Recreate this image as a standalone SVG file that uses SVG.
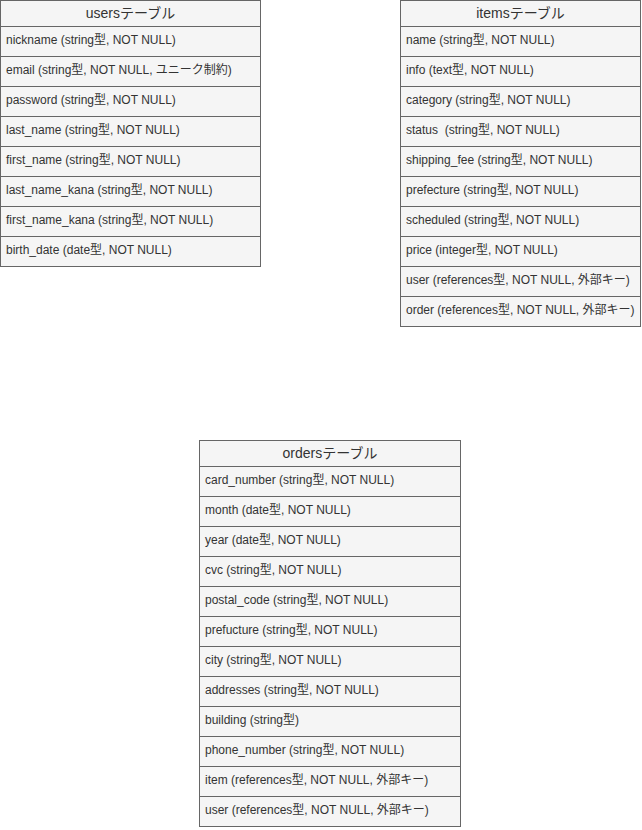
<svg xmlns="http://www.w3.org/2000/svg" width="642" height="830" viewBox="0 0 642 830">
<style>
.box{fill:#f5f5f5;stroke:#666666;stroke-width:1}
.sep{stroke:#666666;stroke-width:1}
.title{font-family:"Liberation Sans","Noto Sans CJK JP",sans-serif;font-size:14px;fill:#333333;text-anchor:middle}
.row{font-family:"Liberation Sans","Noto Sans CJK JP",sans-serif;font-size:12px;fill:#333333}
</style>
<rect width="642" height="830" fill="#ffffff"/>
<g id="users">
<rect class="box" x="0.5" y="0.5" width="260" height="266"/>
<path class="sep" d="M0.5 26.5H260.5M0.5 56.5H260.5M0.5 86.5H260.5M0.5 116.5H260.5M0.5 146.5H260.5M0.5 176.5H260.5M0.5 206.5H260.5M0.5 236.5H260.5"/>
<text class="title" x="130.5" y="18">usersテーブル</text>
<text class="row" x="6" y="44">nickname (string型, NOT NULL)</text>
<text class="row" x="6" y="74">email (string型, NOT NULL, ユニーク制約)</text>
<text class="row" x="6" y="104">password (string型, NOT NULL)</text>
<text class="row" x="6" y="134">last_name (string型, NOT NULL)</text>
<text class="row" x="6" y="164">first_name (string型, NOT NULL)</text>
<text class="row" x="6" y="194">last_name_kana (string型, NOT NULL)</text>
<text class="row" x="6" y="224">first_name_kana (string型, NOT NULL)</text>
<text class="row" x="6" y="254">birth_date (date型, NOT NULL)</text>
</g>
<g id="items">
<rect class="box" x="400.5" y="0.5" width="240" height="326"/>
<path class="sep" d="M400.5 26.5H640.5M400.5 56.5H640.5M400.5 86.5H640.5M400.5 116.5H640.5M400.5 146.5H640.5M400.5 176.5H640.5M400.5 206.5H640.5M400.5 236.5H640.5M400.5 266.5H640.5M400.5 296.5H640.5"/>
<text class="title" x="520.5" y="18">itemsテーブル</text>
<text class="row" x="406" y="44">name (string型, NOT NULL)</text>
<text class="row" x="406" y="74">info (text型, NOT NULL)</text>
<text class="row" x="406" y="104">category (string型, NOT NULL)</text>
<text class="row" x="406" y="134" xml:space="preserve">status  (string型, NOT NULL)</text>
<text class="row" x="406" y="164">shipping_fee (string型, NOT NULL)</text>
<text class="row" x="406" y="194">prefecture (string型, NOT NULL)</text>
<text class="row" x="406" y="224">scheduled (string型, NOT NULL)</text>
<text class="row" x="406" y="254">price (integer型, NOT NULL)</text>
<text class="row" x="406" y="284">user (references型, NOT NULL, 外部キー)</text>
<text class="row" x="406" y="314">order (references型, NOT NULL, 外部キー)</text>
</g>
<g id="orders">
<rect class="box" x="199.5" y="440.5" width="261" height="386"/>
<path class="sep" d="M199.5 466.5H460.5M199.5 496.5H460.5M199.5 526.5H460.5M199.5 556.5H460.5M199.5 586.5H460.5M199.5 616.5H460.5M199.5 646.5H460.5M199.5 676.5H460.5M199.5 706.5H460.5M199.5 736.5H460.5M199.5 766.5H460.5M199.5 796.5H460.5"/>
<text class="title" x="330" y="458">ordersテーブル</text>
<text class="row" x="205" y="484">card_number (string型, NOT NULL)</text>
<text class="row" x="205" y="514">month (date型, NOT NULL)</text>
<text class="row" x="205" y="544">year (date型, NOT NULL)</text>
<text class="row" x="205" y="574">cvc (string型, NOT NULL)</text>
<text class="row" x="205" y="604">postal_code (string型, NOT NULL)</text>
<text class="row" x="205" y="634">prefucture (string型, NOT NULL)</text>
<text class="row" x="205" y="664">city (string型, NOT NULL)</text>
<text class="row" x="205" y="694">addresses (string型, NOT NULL)</text>
<text class="row" x="205" y="724">building (string型)</text>
<text class="row" x="205" y="754">phone_number (string型, NOT NULL)</text>
<text class="row" x="205" y="784">item (references型, NOT NULL, 外部キー)</text>
<text class="row" x="205" y="814">user (references型, NOT NULL, 外部キー)</text>
</g>
<g id="connectors"></g>
</svg>
